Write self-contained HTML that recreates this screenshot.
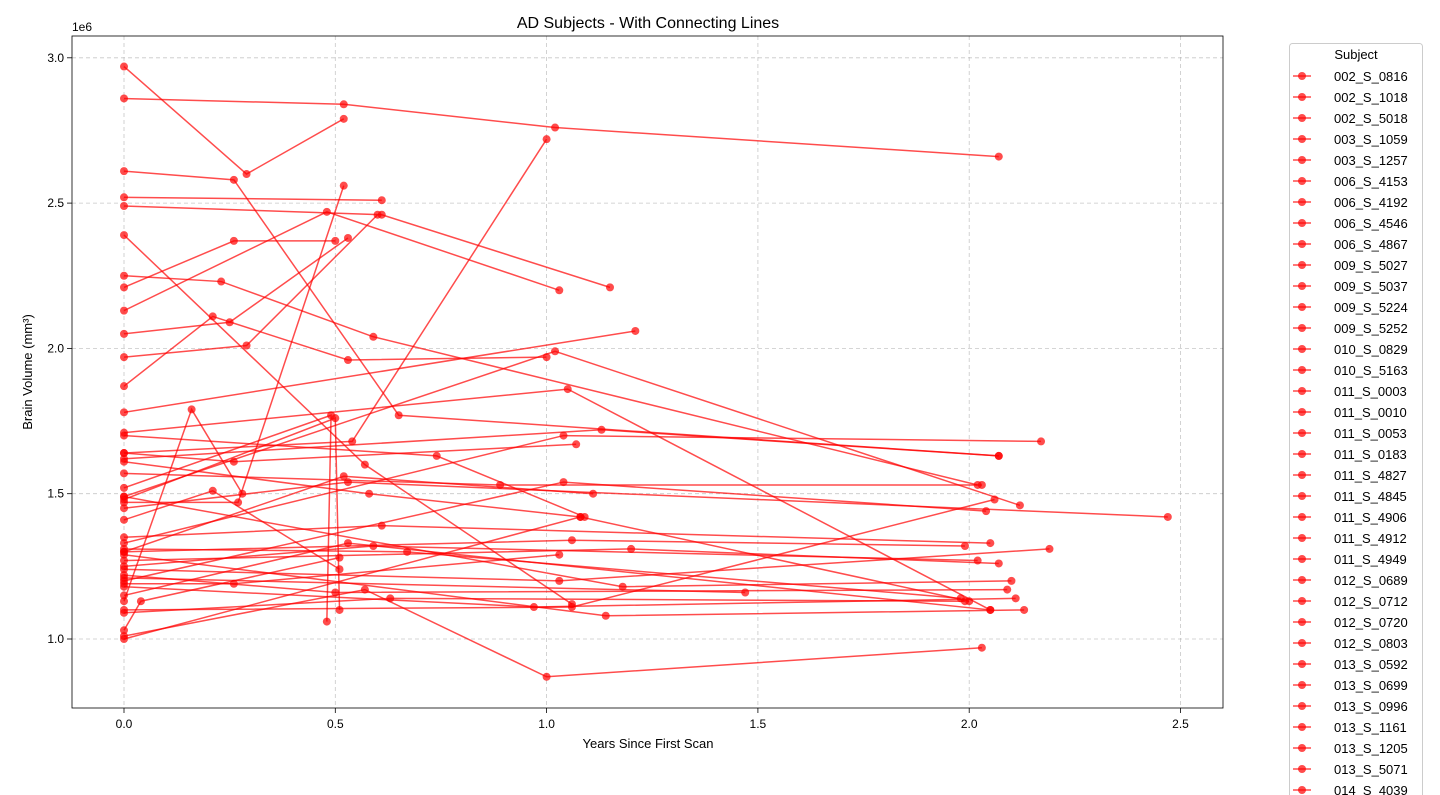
<!DOCTYPE html>
<html><head><meta charset="utf-8"><style>
html,body{margin:0;padding:0;background:#fff;overflow:hidden;width:1440px;height:795px;}
svg{display:block;font-family:"Liberation Sans","DejaVu Sans",sans-serif;overflow:hidden;}
</style></head><body>
<svg id="chart" width="1440" height="795" viewBox="0 0 1440 795"></svg>
<script>
const subjects=["002_S_0816","002_S_1018","002_S_5018","003_S_1059","003_S_1257","006_S_4153","006_S_4192","006_S_4546","006_S_4867","009_S_5027","009_S_5037","009_S_5224","009_S_5252","010_S_0829","010_S_5163","011_S_0003","011_S_0010","011_S_0053","011_S_0183","011_S_4827","011_S_4845","011_S_4906","011_S_4912","011_S_4949","012_S_0689","012_S_0712","012_S_0720","012_S_0803","013_S_0592","013_S_0699","013_S_0996","013_S_1161","013_S_1205","013_S_5071","014_S_4039","014_S_4080","014_S_4576","016_S_4009","016_S_4121","016_S_4591","018_S_4696","018_S_4733","019_S_4252","019_S_4549","021_S_4924","022_S_5004","023_S_4035","024_S_4084"];
const years=[[0,0.29,0.52],[0,0.52,1.02,2.07],[0,0.26,0.65,2.07],[0,0.61],[0,0.61,1.15],[0,0.57,1.06],[0,0.23,0.59,2.02],[0,0.26,0.5],[0,0.48,1.03],[0,0.27,0.52],[0,0.25,0.53],[0,0.29,0.6],[0,0.21,0.53,1.0],[0,1.21],[0,0.54,1.0],[0,0.16,0.28],[0,0.74,1.09],[0,1.05,2.05],[0,1.13,2.07],[0,0.49,0.48],[0,0.5,0.51],[0,1.02,2.12],[0,0.89,2.03],[0,1.04,2.17],[0,0.26,1.07],[0,0.53,2.47],[0,1.04,2.04],[0,1.06,2.06],[0,0.97,2.11],[0,1.14,2.13],[0,1.47],[0,0.57,1.0,2.03],[0,1.06,1.99],[0,0.61,2.05],[0,1.2,2.07],[0,0.26,1.03],[0,0.5,2.09],[0,0.63,1.99],[0,0.59,2.02],[0,0.21,0.51],[0,1.08,2.0],[0,0.04,0.51],[0,1.03,2.19],[0,1.18,2.1],[0,0.58,1.08],[0,0.52,1.11],[0,0.53,2.05],[0,0.67,1.98]];
const volumes=[[2.97,2.60,2.79],[2.86,2.84,2.76,2.66],[2.61,2.58,1.77,1.63],[2.52,2.51],[2.49,2.46,2.21],[2.39,1.60,1.12],[2.25,2.23,2.04,1.53],[2.21,2.37,2.37],[2.13,2.47,2.20],[1.47,1.47,2.56],[2.05,2.09,2.38],[1.97,2.01,2.46],[1.87,2.11,1.96,1.97],[1.78,2.06],[1.64,1.68,2.72],[1.13,1.79,1.50],[1.70,1.63,1.42],[1.71,1.86,1.10],[1.62,1.72,1.63],[1.52,1.77,1.06],[1.48,1.76,1.10],[1.49,1.99,1.46],[1.57,1.53,1.53],[1.33,1.70,1.68],[1.64,1.61,1.67],[1.45,1.54,1.42],[1.20,1.54,1.44],[1.10,1.11,1.48],[1.18,1.11,1.14],[1.29,1.08,1.10],[1.21,1.16],[1.01,1.17,0.87,0.97],[1.30,1.34,1.32],[1.35,1.39,1.33],[1.27,1.31,1.26],[1.19,1.19,1.29],[1.22,1.16,1.17],[1.09,1.14,1.13],[1.25,1.32,1.27],[1.41,1.51,1.24],[1.00,1.42,1.13],[1.03,1.13,1.28],[1.24,1.20,1.31],[1.49,1.18,1.20],[1.61,1.50,1.42],[1.30,1.56,1.50],[1.15,1.33,1.10],[1.31,1.30,1.14]];
const xTicks=[0,0.5,1.0,1.5,2.0,2.5];
const xTickLabels=["0.0","0.5","1.0","1.5","2.0","2.5"];
const yTicks=[1.0,1.5,2.0,2.5,3.0];
const yTickLabels=["1.0","1.5","2.0","2.5","3.0"];
const NS='http://www.w3.org/2000/svg';
const svg=document.getElementById('chart');
const L=72,R=1223,T=36,B=708;
const xs=v=>124+v*422.6;
const ys=v=>639-(v-1.0)*290.6;
function mk(tag,attrs,parent){const e=document.createElementNS(NS,tag);for(const k in attrs)e.setAttribute(k,attrs[k]);(parent||svg).appendChild(e);return e;}
let t=mk('text',{x:648,y:28,'text-anchor':'middle','font-size':16,fill:'#000'});t.textContent='AD Subjects - With Connecting Lines';


const grid=mk('g',{});


xTicks.forEach((v,i)=>{const x=xs(v);
mk('line',{x1:x,x2:x,y1:T,y2:B,stroke:'#b0b0b0','stroke-width':0.8,'stroke-dasharray':'4,3',opacity:0.7},grid);
mk('line',{x1:x,x2:x,y1:B,y2:B+5,stroke:'#000','stroke-width':0.8});
const tx=mk('text',{x:x,y:B+20,'text-anchor':'middle','font-size':12,fill:'#000'});tx.textContent=xTickLabels[i];

});
yTicks.forEach((v,i)=>{const y=ys(v);
mk('line',{x1:L,x2:R,y1:y,y2:y,stroke:'#b0b0b0','stroke-width':0.8,'stroke-dasharray':'4,3',opacity:0.7},grid);
mk('line',{x1:L-5,x2:L,y1:y,y2:y,stroke:'#000','stroke-width':0.8});
const ty=mk('text',{x:L-8,y:y+4,'text-anchor':'end','font-size':12,fill:'#000'});ty.textContent=yTickLabels[i];

});
let e6=mk('text',{x:72,y:31,'font-size':12});e6.textContent='1e6';


const sg=mk('g',{});


subjects.forEach((s,i)=>{
 const g=mk('g',{},sg);
 
 
 const pts=years[i].map((x,j)=>xs(x)+','+ys(volumes[i][j])).join(' ');
 mk('polyline',{points:pts,fill:'none',stroke:'red','stroke-width':1.5,'stroke-opacity':0.7},g);
 years[i].forEach((x,j)=>{const c=mk('circle',{cx:xs(x),cy:ys(volumes[i][j]),r:4,fill:'red','fill-opacity':0.7},g);
 
 });
});
const fr=mk('rect',{x:L,y:T,width:R-L,height:B-T,fill:'none',stroke:'#000','stroke-width':0.8});


let xl=mk('text',{x:648,y:748,'text-anchor':'middle','font-size':13});xl.textContent='Years Since First Scan';


let yl=mk('text',{x:0,y:0,'text-anchor':'middle','font-size':13,transform:'translate(32,372) rotate(-90)'});yl.textContent='Brain Volume (mm³)';


const lg=mk('g',{});


mk('rect',{x:1289.5,y:43.5,width:133,height:760,rx:3,fill:'#fff',stroke:'#ccc','stroke-width':1},lg);
let lt=mk('text',{x:1356,y:59,'text-anchor':'middle','font-size':13},lg);lt.textContent='Subject';


subjects.forEach((s,i)=>{const y=76+i*21;
 if(y>795) return;
 const eg=mk('g',{},lg);
 
 
 mk('line',{x1:1293,x2:1311,y1:y,y2:y,stroke:'red','stroke-width':1.5,'stroke-opacity':0.7},eg);
 mk('circle',{cx:1302,cy:y,r:4,fill:'red','fill-opacity':0.7},eg);
 const tt=mk('text',{x:1334,y:y+5,'font-size':13},eg);tt.textContent=s;});
</script>
</body></html>
